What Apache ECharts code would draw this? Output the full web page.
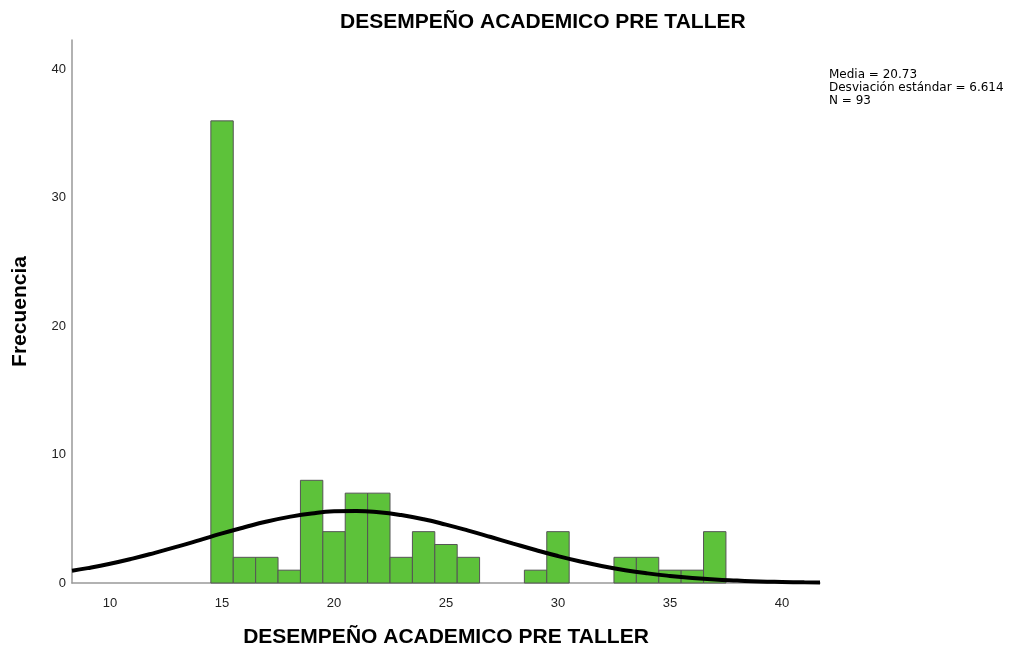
<!DOCTYPE html>
<html><head><meta charset="utf-8">
<script src="https://cdn.jsdelivr.net/npm/echarts@6/dist/echarts.min.js"></script>
<style>html,body{margin:0;padding:0;background:#fff}#c{width:1013px;height:653px}</style>
</head><body><div id="c"></div>
<script>
const binCenters = [15,16,17,18,19,20,21,22,23,24,25,26,29,30,33,34,35,36,37];
const frequencies = [36,2,2,1,8,4,7,7,2,4,3,2,1,4,2,2,1,1,4];
const curveX = [8.3,9,10,11,12,13,14,15,16,17,18,19,20,21,22,23,24,25,26,27,28,29,30,31,32,33,34,35,36,37,38,39,40,41,41.7];
const curveY = [0.96,1.16,1.50,1.90,2.35,2.83,3.34,3.86,4.34,4.79,5.15,5.42,5.58,5.61,5.51,5.29,4.97,4.55,4.08,3.58,3.07,2.57,2.10,1.68,1.31,1.00,0.75,0.55,0.39,0.27,0.19,0.12,0.08,0.05,0.04];
const xTicks = [10,15,20,25,30,35,40];
const yTicks = [0,10,20,30,40];
const statsLines = ['Media = 20.73','Desviación estándar = 6.614','N = 93'];
const titleText = 'DESEMPEÑO ACADEMICO PRE TALLER';

const chart = echarts.init(document.getElementById('c'));
const font = 'Arial, "Liberation Sans", sans-serif';
const wide = '"DejaVu Sans", sans-serif';
chart.setOption({
  animation:false,
  grid:{left:72,right:193,top:40,bottom:70,containLabel:false,outerBoundsMode:'none'},
  title:{text:titleText,left:335,top:7,textStyle:{fontFamily:font,fontSize:21,fontWeight:'bold',color:'#000'}},
  graphic:[{type:'text',left:829,top:68,style:{text:statsLines.join('\n'),font:'12px '+wide,fill:'#000',lineHeight:13}}],
  xAxis:{type:'value',min:8.3,max:41.7,interval:5,
    name:titleText,nameLocation:'middle',nameGap:44,
    nameTextStyle:{fontFamily:font,fontSize:21,fontWeight:'bold',color:'#000'},
    axisLine:{show:true,lineStyle:{color:'#999',width:1.5}},axisTick:{show:false},splitLine:{show:false},
    axisLabel:{fontFamily:font,fontSize:13,color:'#222',margin:14,
      customValues:xTicks,formatter:v=>xTicks.includes(Math.round(v))&&Math.abs(v-Math.round(v))<1e-6?String(Math.round(v)):''}},
  yAxis:{type:'value',min:0,max:42.3,
    name:'Frecuencia',nameLocation:'middle',nameGap:41,nameRotate:90,
    nameTextStyle:{fontFamily:font,fontSize:21,fontWeight:'bold',color:'#000'},
    axisLine:{show:true,lineStyle:{color:'#999',width:1.5}},axisTick:{show:false},splitLine:{show:false},
    axisLabel:{fontFamily:font,fontSize:13,color:'#222',margin:6,customValues:yTicks}},
  series:[
    {type:'custom',
     renderItem:function(params,api){
       const x=api.value(0), y=api.value(1);
       const p0=api.coord([x-0.5,0]), p1=api.coord([x+0.5,y]);
       return {type:'rect',shape:{x:p0[0],y:p1[1],width:p1[0]-p0[0],height:p0[1]-p1[1]},
         style:{fill:'#5DC23A',stroke:'#555',lineWidth:1}};
     },
     data:binCenters.map((c,i)=>[c,frequencies[i]]),z:2},
    {type:'line',data:curveX.map((x,i)=>[x,curveY[i]]),smooth:true,showSymbol:false,
     lineStyle:{color:'#000',width:4},z:3}
  ]
});
</script></body></html>
